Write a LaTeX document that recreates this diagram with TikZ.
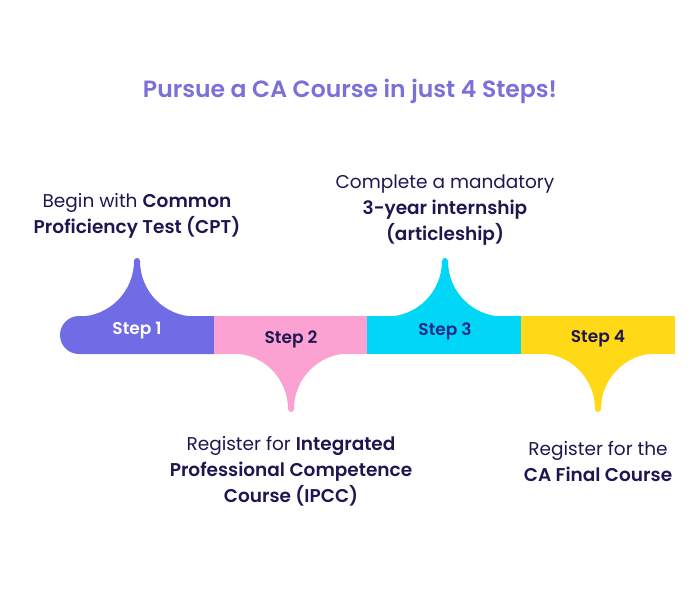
\documentclass[tikz,border=0pt]{standalone}
\usepackage{fontspec}
\setmainfont{Poppins}[BoldFont={Poppins SemiBold}]
\definecolor{cpurple}{HTML}{6F6CE6}
\definecolor{cpink}{HTML}{FBA2D3}
\definecolor{ccyan}{HTML}{00D7F7}
\definecolor{cyellow}{HTML}{FFD916}
\definecolor{ctitle}{HTML}{7A70DA}
\definecolor{cdark}{HTML}{1E1650}
\definecolor{cnavy}{HTML}{1F2A8A}
\tikzset{
  desc/.style={text=cdark, align=center, font=\fontsize{18.5}{26}\selectfont, inner sep=0pt},
  steplabel/.style={font=\fontsize{17}{18}\selectfont\bfseries, inner sep=0pt},
}
\begin{document}
\begin{tikzpicture}[x=1pt,y=-1pt]
\useasboundingbox (0,0) rectangle (700,600);
% title
\node[text=ctitle, font=\fontsize{23.5}{26}\selectfont\bfseries, inner sep=0pt] (title) at (350,91) {Pursue a CA Course in just 4 Steps!};
% band segments
\fill[cpurple] (214,316) -- (79,316) arc[start angle=-90, end angle=-270, radius=19] -- (214,354) -- cycle;
\fill[cpink] (214,316) rectangle (368,354);
\fill[ccyan] (367,316) rectangle (522,354);
\fill[cyellow] (521,316) rectangle (675,354);
% upward bumps (step 1 and 3)
\foreach \cx/\col in {137/cpurple, 445/ccyan} {
  \fill[\col] (\cx-58,316.5) .. controls (\cx-58+30.4,316.5) and (\cx-3,261+30.4) .. (\cx-3,261)
     .. controls (\cx-3,257) and (\cx+3,257) .. (\cx+3,261)
     .. controls (\cx+3,261+30.4) and (\cx+58-30.4,316.5) .. (\cx+58,316.5) -- cycle;
}
% downward bumps (step 2 and 4)
\foreach \cx/\col in {291/cpink, 598/cyellow} {
  \fill[\col] (\cx-58,353.5) .. controls (\cx-58+30.4,353.5) and (\cx-3,409-30.4) .. (\cx-3,409)
     .. controls (\cx-3,413) and (\cx+3,413) .. (\cx+3,409)
     .. controls (\cx+3,409-30.4) and (\cx+58-30.4,353.5) .. (\cx+58,353.5) -- cycle;
}
% step labels
\node[steplabel, text=white] (s1) at (137,331) {Step 1};
\node[steplabel, text=cdark] (s2) at (291,339) {Step 2};
\node[steplabel, text=cnavy] (s3) at (445,331) {Step 3};
\node[steplabel, text=cdark] (s4) at (598,339) {Step 4};
% descriptions
\node[desc, anchor=north] (d1) at (137,193) {Begin with \textbf{Common}\\\textbf{Proficiency Test (CPT)}};
\node[desc, anchor=north] (d3) at (445,175) {Complete a mandatory\\\textbf{3-year internship}\\\textbf{(articleship)}};
\node[desc, anchor=north] (d2) at (291,436) {Register for \textbf{Integrated}\\\textbf{Professional Competence}\\\textbf{Course (IPCC)}};
\node[desc, anchor=north] (d4) at (598,441) {Register for the\\\textbf{CA Final Course}};
\end{tikzpicture}
\end{document}
